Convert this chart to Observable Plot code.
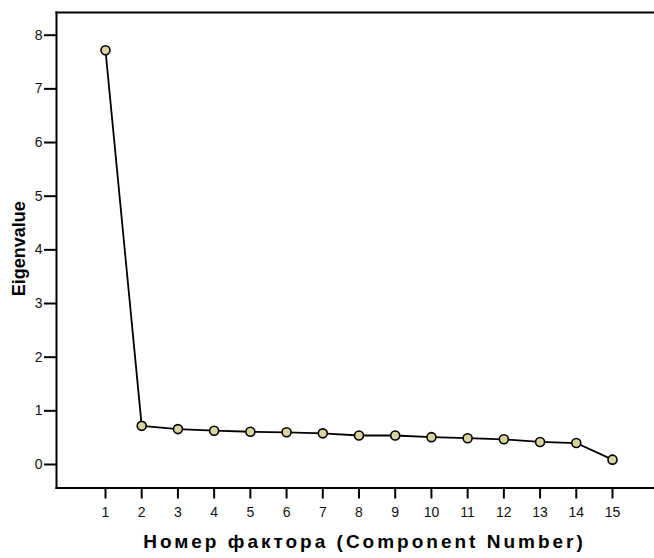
<!DOCTYPE html>
<html>
<head>
<meta charset="utf-8">
<script src="https://cdn.jsdelivr.net/npm/d3@7"></script>
<script src="https://cdn.jsdelivr.net/npm/@observablehq/plot@0.6"></script>
<style>
  html, body { margin: 0; padding: 0; background: #fff; }
  svg { display: block; }
  g[aria-label$="tick"] { stroke-width: 2px; stroke-opacity: 1; stroke: #000; }
  g[aria-label="frame"] { stroke-width: 2px; stroke-opacity: 1; stroke: #000; }
</style>
</head>
<body>
<div id="chart"></div>
<script>
const components = [1, 2, 3, 4, 5, 6, 7, 8, 9, 10, 11, 12, 13, 14, 15];
const eigenvalues = [7.72, 0.72, 0.66, 0.63, 0.61, 0.60, 0.58, 0.54, 0.54, 0.51, 0.49, 0.47, 0.42, 0.40, 0.09];
const xTicks = [1, 2, 3, 4, 5, 6, 7, 8, 9, 10, 11, 12, 13, 14, 15];
const yTicks = [0, 1, 2, 3, 4, 5, 6, 7, 8];
const xLabel = "Номер фактора (Component Number)";
const yLabel = "Eigenvalue";

const data = components.map((c, i) => ({c, v: eigenvalues[i]}));

const chart = Plot.plot({
  width: 654,
  height: 558,
  marginLeft: 56,
  marginTop: 12,
  marginRight: 0,
  marginBottom: 70.5,
  style: {fontFamily: "'Liberation Sans', Arial, sans-serif", fontSize: "14px", color: "#111", background: "#fff"},
  x: {domain: [-0.353, 16.16], ticks: xTicks, label: null},
  y: {domain: [-0.438, 8.423], ticks: yTicks, label: null},
  marks: [
    Plot.frame({anchor: "top", strokeWidth: 2, stroke: "#000"}),
    Plot.frame({anchor: "left", strokeWidth: 2, stroke: "#000"}),
    Plot.frame({anchor: "bottom", strokeWidth: 2, stroke: "#000"}),
    Plot.axisX({ticks: xTicks, tickSize: 11, tickPadding: 8, stroke: "#000", strokeWidth: 2, label: null, fontSize: 14}),
    Plot.axisY({ticks: yTicks, tickSize: 12, tickPadding: 2, stroke: "#000", strokeWidth: 2, label: null, fontSize: 14}),
    Plot.line(data, {x: "c", y: "v", stroke: "#000", strokeWidth: 1.8}),
    Plot.dot(data, {x: "c", y: "v", r: 4.5, fill: "#d8d3a0", stroke: "#000", strokeWidth: 1.6}),
    Plot.text([yLabel], {frameAnchor: "left", dx: -37.5, dy: 46, rotate: -90, text: d => d, fontWeight: "bold", fontSize: 18, fill: "#000"}),
    Plot.text([xLabel], {frameAnchor: "bottom", dx: 9, dy: 60, text: d => d, fontWeight: "bold", fontSize: 19, fill: "#000"})
  ]
});
d3.select(chart).selectAll("text").filter(function() { return this.textContent === xLabel; })
  .attr("letter-spacing", "3px");
document.getElementById("chart").appendChild(chart);
</script>
</body>
</html>
